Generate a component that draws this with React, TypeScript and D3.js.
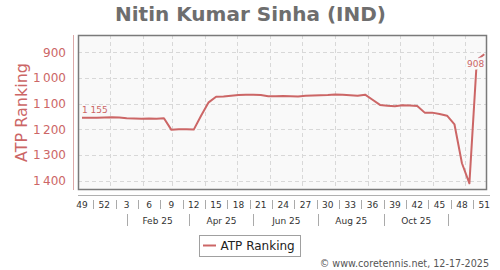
import React from "react";
import * as d3 from "d3";

const FIRST_DATE = Date.UTC(2024, 11, 6);
const WEEK_MS = 7 * 24 * 3600 * 1000;

const rankings: number[] = [
  1155, 1155, 1155, 1154, 1153, 1154, 1157, 1158, 1159, 1158, 1159, 1157,
  1202, 1200, 1200, 1201, 1146, 1095, 1073,
  1072, 1069, 1066, 1065, 1065, 1066, 1071, 1071, 1070, 1071, 1072, 1069, 1068, 1067, 1066, 1064,
  1065, 1067, 1069, 1065, 1085, 1105, 1108, 1110, 1106, 1107, 1109, 1135, 1135, 1140, 1147, 1181,
  1332, 1410, 930, 908,
];

const weekLabels: string[] = [
  "49", "52", "3", "6", "9", "12", "15", "18", "21", "24", "27", "30", "33", "36", "39", "42", "45", "48", "51",
];

const monthLabels: string[] = ["Feb 25", "Apr 25", "Jun 25", "Aug 25", "Oct 25"];
const monthLabelDates: string[] = ["2025-02-15", "2025-04-16", "2025-06-16", "2025-08-16", "2025-10-16"];
const monthSeparatorDates: string[] = ["2025-01-17", "2025-03-17", "2025-05-16", "2025-07-16", "2025-09-16", "2025-11-15"];

const yTicks: number[] = [900, 1000, 1100, 1200, 1300, 1400];

const TITLE = "Nitin Kumar Sinha (IND)";
const SERIES_NAME = "ATP Ranking";
const CREDITS = "© www.coretennis.net, 12-17-2025";

const COLOR = "#cc6666";
const FONT = "'DejaVu Sans', Verdana, sans-serif";

const fmt = (v: number) => {
  const s = String(v);
  return s.length > 3 ? s.slice(0, s.length - 3) + " " + s.slice(s.length - 3) : s;
};
const fmtTick = (v: number) => {
  const s = String(v);
  return s.length > 3 ? s.slice(0, s.length - 3) + "\u2009" + s.slice(s.length - 3) : s;
};

export default function App() {
  const W = 500, H = 270;
  const plot = { left: 78, top: 35, right: 487, bottom: 190 };
  const dates = rankings.map((_, i) => new Date(FIRST_DATE + i * WEEK_MS));
  const lastDate = dates[dates.length - 1];
  const day = 24 * 3600 * 1000;

  const x = d3
    .scaleUtc()
    .domain([new Date(FIRST_DATE - 3.76 * day), new Date(+lastDate + 2.54 * day)])
    .range([plot.left, plot.right]);
  const y = d3.scaleLinear().domain([833, 1436]).range([plot.top, plot.bottom]);

  const line = d3
    .line<number>()
    .x((_, i) => x(dates[i]))
    .y((d) => y(d));

  const monthGrid = d3.utcMonths(new Date(Date.UTC(2025, 0, 1)), new Date(Date.UTC(2025, 11, 2)));

  const weekLabelPos = weekLabels.map((_, k) => x(dates[k * 3]));
  const weekSeps = weekLabels.slice(1).map((_, k) => x(new Date(FIRST_DATE + (k * 3 + 1.5) * WEEK_MS)));

  const parse = (s: string) => new Date(s + "T00:00:00Z");
  const last = rankings.length - 1;

  return (
    <svg
      width={W}
      height={H}
      style={{ position: "absolute", left: 0, top: 0, fontFamily: FONT }}
    >
      <rect x={0} y={0} width={W} height={H} fill="#ffffff" />
      <text x={250.5} y={20.5} textAnchor="middle" fontSize={20} fontWeight="bold" fill="#6e6e6e">
        {TITLE}
      </text>

      {/* plot background */}
      <rect
        x={plot.left}
        y={plot.top}
        width={plot.right - plot.left}
        height={plot.bottom - plot.top}
        fill="#f9f9f9"
      />
      {/* grid */}
      {yTicks.map((t) => (
        <line
          key={"gy" + t}
          x1={plot.left}
          x2={plot.right}
          y1={Math.round(y(t)) + 0.5}
          y2={Math.round(y(t)) + 0.5}
          stroke="#d8d8d8"
          strokeDasharray="4,3"
        />
      ))}
      {monthGrid.map((d, k) => (
        <line
          key={"gx" + k}
          x1={Math.round(x(d)) + 0.5}
          x2={Math.round(x(d)) + 0.5}
          y1={plot.top}
          y2={plot.bottom}
          stroke="#d8d8d8"
          strokeDasharray="4,3"
        />
      ))}

      {/* series */}
      <path d={line(rankings) || ""} fill="none" stroke={COLOR} strokeWidth={2} strokeLinejoin="round" />

      {/* data labels */}
      <text x={x(dates[0])} y={112.5} fontSize={9} fill={COLOR}>
        {fmt(rankings[0])}
      </text>
      <text
        x={x(dates[last])}
        y={66.8}
        fontSize={9}
        fill={COLOR}
        textAnchor="end"
        stroke="#f9f9f9"
        strokeWidth={5}
        paintOrder="stroke"
        strokeLinejoin="round"
      >
        {fmt(rankings[last])}
      </text>

      {/* plot border */}
      <rect
        x={plot.left + 0.5}
        y={plot.top + 0.5}
        width={plot.right - plot.left - 1}
        height={plot.bottom - plot.top - 1}
        fill="none"
        stroke="#7a7a7a"
        strokeWidth={1.5}
      />

      {/* y axis */}
      <line x1={73.5} x2={73.5} y1={plot.top} y2={plot.bottom} stroke="#dba8a8" />
      {yTicks.map((t) => (
        <text
          key={"yt" + t}
          x={66}
          y={y(t) + 4.3}
          textAnchor="end"
          fontSize={12}
          fill={COLOR}
        >
          {fmtTick(t)}
        </text>
      ))}
      <text
        transform={`translate(26.8, ${112.5}) rotate(-90)`}
        textAnchor="middle"
        fontSize={16}
        fill={COLOR}
      >
        {SERIES_NAME}
      </text>

      {/* x axis */}
      <line x1={plot.left} x2={490} y1={195.5} y2={195.5} stroke="#b0b0b0" />
      {weekLabels.map((l, k) => (
        <text key={"wl" + k} x={weekLabelPos[k]} y={208.3} textAnchor="middle" fontSize={9} fill="#333">
          {l}
        </text>
      ))}
      {weekSeps.map((sx, k) => (
        <line
          key={"ws" + k}
          x1={Math.round(sx) + 0.5}
          x2={Math.round(sx) + 0.5}
          y1={200}
          y2={209}
          stroke="#aaaaaa"
        />
      ))}
      {monthLabels.map((l, k) => (
        <text
          key={"ml" + k}
          x={x(parse(monthLabelDates[k]))}
          y={224.3}
          textAnchor="middle"
          fontSize={9}
          fill="#333"
        >
          {l}
        </text>
      ))}
      {monthSeparatorDates.map((s, k) => (
        <line
          key={"ms" + k}
          x1={Math.round(x(parse(s))) + 0.5}
          x2={Math.round(x(parse(s))) + 0.5}
          y1={214}
          y2={226}
          stroke="#aaaaaa"
        />
      ))}

      {/* legend */}
      <rect x={199.5} y={235.5} width={101} height={21} fill="#ffffff" stroke="#a0a0a0" />
      <line x1={203} x2={216} y1={245.5} y2={245.5} stroke={COLOR} strokeWidth={2} />
      <text x={220.5} y={250.2} fontSize={12} fill="#222">
        {SERIES_NAME}
      </text>

      {/* credits */}
      <text x={489} y={266.5} textAnchor="end" fontSize={9.6} fill="#555">
        {CREDITS}
      </text>
    </svg>
  );
}
